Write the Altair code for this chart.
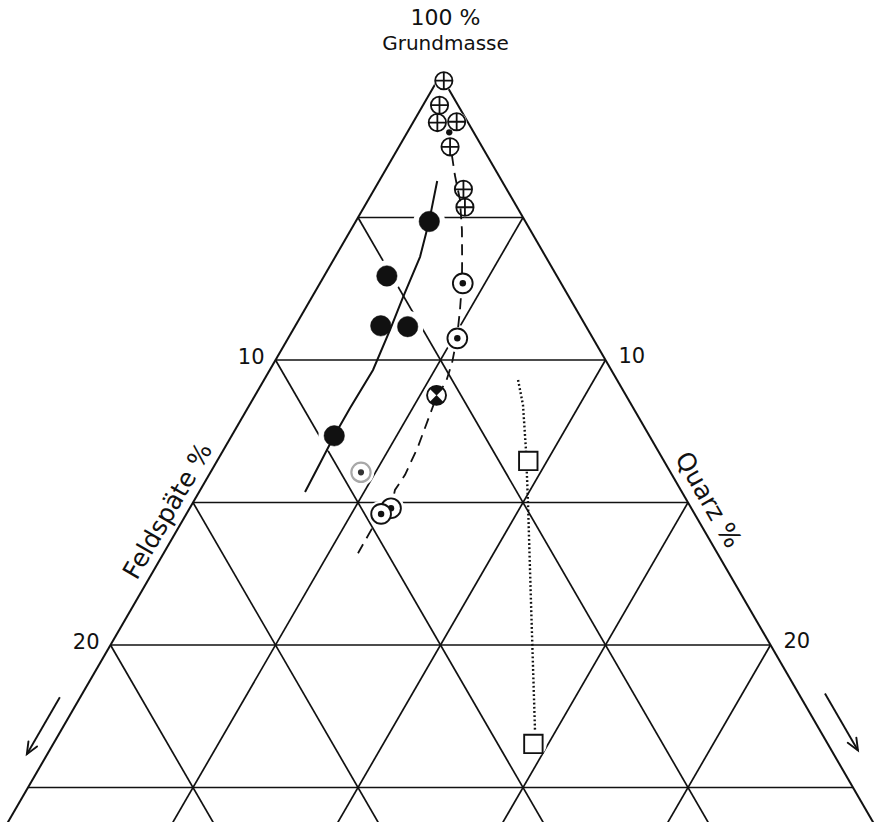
import altair as alt
import pandas as pd

# Ternary diagram Grundmasse / Feldspäte / Quarz (upper corner only).
# Every point is stored as Feldspäte % (F) and Quarz % (Q); Grundmasse = 100 - F - Q.

# crossed circles
plus_F = [0.00, 0.56, 0.93, 0.33, 0.97, 1.31, 1.58]
plus_Q = [0.20, 0.50, 0.74, 1.31, 1.55, 2.70, 3.06]

# filled circles
black_F = [2.91, 5.15, 6.21, 5.41, 9.55]
black_Q = [2.23, 1.90, 2.59, 3.42, 3.11]

# circles with centre dot (back one first)
ring_F = [2.98, 4.11, 9.10, 9.50]
ring_Q = [4.33, 5.13, 6.10, 5.90]

# faint circle with centre dot
faint_F = [9.38]
faint_Q = [4.56]

# lone small dot among the crossed circles
small_F = [0.74]
small_Q = [1.27]

# half-filled circle
half_F = [5.74]
half_Q = [5.50]

# squares
square_F = [4.11, 8.92]
square_Q = [9.43, 14.55]

# trend curves
solid_F = [1.96, 2.93, 3.81, 5.03, 6.00, 7.22, 8.58, 9.55, 10.46, 11.42]
solid_Q = [1.76, 2.23, 2.57, 2.76, 2.94, 3.13, 3.10, 3.11, 3.16, 3.21]

dashed_F = [1.06, 1.32, 1.60, 2.07, 2.59, 3.00, 3.53, 4.11, 4.70, 5.22, 5.74,
            6.43, 7.21, 8.09, 8.66, 9.10, 9.98, 10.89]
dashed_Q = [1.75, 2.19, 2.78, 3.37, 3.90, 4.30, 4.71, 5.11, 5.40, 5.55, 5.52,
            5.67, 5.84, 5.94, 5.90, 6.10, 5.88, 5.89]

dotted_F = [3.00, 3.29, 3.99, 4.84, 6.47, 8.13, 8.66]
dotted_Q = [7.70, 8.29, 9.17, 10.14, 11.95, 13.80, 14.39]

grid_steps = [5, 10, 15, 20, 25]
tick_values = [10, 20]
edge = 26.4  # lower cut of the diagram (sum F + Q)

# ---------------------------------------------------------------------------
INK = "#111111"

X = alt.X("u:Q", axis=None,
          scale=alt.Scale(domain=[-26.697, 26.636], nice=False, zero=False))
Y = alt.Y("v:Q", axis=None,
          scale=alt.Scale(domain=[-2.632, 26.21], nice=False, zero=False, reverse=True))


def pts(F, Q, **extra):
    d = pd.DataFrame({"F": F, "Q": Q})
    for k, v in extra.items():
        d[k] = v
    d["i"] = range(len(d))
    return d


def cart(chart):
    return chart.transform_calculate(
        u="datum.Q - datum.F", v="datum.F + datum.Q"
    )


def segs(rows):
    return pd.DataFrame(rows, columns=["F1", "Q1", "F2", "Q2"])


def seg_chart(d, **mark):
    return alt.Chart(d).mark_rule(clip=True, **mark).transform_calculate(
        u="datum.Q1 - datum.F1", v="datum.F1 + datum.Q1",
        u2="datum.Q2 - datum.F2", v2="datum.F2 + datum.Q2",
    ).encode(x=X, y=Y, x2="u2:Q", y2="v2:Q")


# grid
grid_rows = []
for k in grid_steps:
    grid_rows.append([k, 0, 0, k])                 # constant Grundmasse
for k in grid_steps[:-1]:
    grid_rows.append([k, 0, k, edge - k])          # constant Feldspäte
    grid_rows.append([0, k, edge - k, k])          # constant Quarz
grid = seg_chart(segs(grid_rows), color=INK, strokeWidth=1.7)

sides = seg_chart(segs([[0, 0, edge, 0], [0, 0, 0, edge]]),
                  color=INK, strokeWidth=2.0)

# white gaps in the grid around the symbols
halo_rows = []
for F, Q in zip(plus_F, plus_Q):
    halo_rows.append((F, Q, 400))
for F, Q in zip(black_F, black_Q):
    halo_rows.append((F, Q, 1000))
for F, Q in zip(ring_F + faint_F + half_F, ring_Q + faint_Q + half_Q):
    halo_rows.append((F, Q, 700))
for F, Q in zip(square_F, square_Q):
    halo_rows.append((F, Q, 700))
halo_df = pd.DataFrame(halo_rows, columns=["F", "Q", "s"])
halos = cart(alt.Chart(halo_df).mark_point(
    shape="circle", filled=True, fill="white", stroke=None, opacity=1
)).encode(x=X, y=Y, size=alt.Size("s:Q", scale=None, legend=None))


def curve(F, Q, **mark):
    return cart(alt.Chart(pts(F, Q)).mark_line(color=INK, **mark)).encode(
        x=X, y=Y, order="i:Q")


solid = curve(solid_F, solid_Q, strokeWidth=2.0)
dashed = curve(dashed_F, dashed_Q, strokeWidth=1.8, strokeDash=[11, 7])
dotted = curve(dotted_F, dotted_Q, strokeWidth=2.4, strokeDash=[1.8, 2.4])

CIRCLE_PATH = "M1,0 A1,1 0 1,1 -1,0 A1,1 0 1,1 1,0 Z"
PLUS_PATH = CIRCLE_PATH + " M-1,0 L1,0 M0,-1 L0,1"
BOWTIE_PATH = ("M0,0 L-0.707,-0.707 A1,1 0 0,1 0.707,-0.707 Z "
               "M0,0 L0.707,0.707 A1,1 0 0,1 -0.707,0.707 Z")
HEAD_PATH = "M-0.42,-1 L0,0 L0.42,-1"


def symbol(F, Q, **mark):
    base = dict(opacity=1)
    base.update(mark)
    return cart(alt.Chart(pts(F, Q)).mark_point(**base)).encode(x=X, y=Y)


plus = symbol(plus_F, plus_Q, shape=PLUS_PATH, size=300, filled=False,
              stroke=INK, strokeWidth=1.8)
blacks = symbol(black_F, black_Q, shape="circle", size=420, filled=True,
                fill=INK, stroke=INK, strokeWidth=0.5)
small = symbol(small_F, small_Q, shape="circle", size=40, filled=True, fill=INK)

ring_layers = []
for F, Q in zip(ring_F, ring_Q):
    ring_layers.append(symbol([F], [Q], shape="circle", size=390, filled=True,
                              fill="white", stroke=INK, strokeWidth=1.9))
    ring_layers.append(symbol([F], [Q], shape="circle", size=42, filled=True,
                              fill=INK))
faint_ring = symbol(faint_F, faint_Q, shape="circle", size=370, filled=True,
                    fill="white", stroke="#a8a8a8", strokeWidth=2.2)
faint_dot = symbol(faint_F, faint_Q, shape="circle", size=38, filled=True,
                   fill="#333333")

half_ring = symbol(half_F, half_Q, shape="circle", size=360, filled=True,
                   fill="white", stroke=INK, strokeWidth=1.9)
half_fill = symbol(half_F, half_Q, shape=BOWTIE_PATH, size=350, filled=True,
                   fill=INK, stroke=INK, strokeWidth=0.5)

squares = symbol(square_F, square_Q, shape="square", size=340, filled=True,
                 fill="white", stroke=INK, strokeWidth=1.9)

# direction arrows outside the two sides
arrow_F1 = [22.45, -0.80]
arrow_Q1 = [-0.62, 22.50]
arrow_F2 = [24.45, -0.80]
arrow_Q2 = [-0.62, 24.50]
arrow_angle = [30, 330]

shafts = seg_chart(pd.DataFrame({"F1": arrow_F1, "Q1": arrow_Q1,
                                 "F2": arrow_F2, "Q2": arrow_Q2}),
                   color=INK, strokeWidth=1.9)
heads = cart(alt.Chart(pd.DataFrame({"F": arrow_F2, "Q": arrow_Q2,
                                     "a": arrow_angle})).mark_point(
    shape=HEAD_PATH, size=560, filled=False, stroke=INK, strokeWidth=1.9,
    opacity=1, strokeCap="round"
)).encode(x=X, y=Y, angle=alt.Angle("a:Q", scale=None))

# texts
FONT = "DejaVu Sans"
title_top = cart(alt.Chart(pd.DataFrame({"F": [0], "Q": [0], "t": ["100 %"]}))
                 .mark_text(font=FONT, fontSize=22, color=INK, dx=5, dy=-57,
                            baseline="middle", align="center")
                 ).encode(x=X, y=Y, text="t:N")
title_name = cart(alt.Chart(pd.DataFrame({"F": [0], "Q": [0], "t": ["Grundmasse"]}))
                  .mark_text(font=FONT, fontSize=20, color=INK, dx=5, dy=-31,
                             baseline="middle", align="center")
                  ).encode(x=X, y=Y, text="t:N")

left_ticks = cart(alt.Chart(pd.DataFrame({"F": tick_values, "Q": [0, 0],
                                          "t": [str(t) for t in tick_values]}))
                  .mark_text(font=FONT, fontSize=21, color=INK, dx=-11, dy=-2,
                             baseline="middle", align="right")
                  ).encode(x=X, y=Y, text="t:N")
right_ticks = cart(alt.Chart(pd.DataFrame({"F": [0, 0], "Q": tick_values,
                                           "t": [str(t) for t in tick_values]}))
                   .mark_text(font=FONT, fontSize=21, color=INK, dx=13, dy=-3,
                              baseline="middle", align="left")
                   ).encode(x=X, y=Y, text="t:N")

feld_label = cart(alt.Chart(pd.DataFrame({"F": [15.91], "Q": [-0.61],
                                          "t": ["Feldspäte %"]}))
                  .mark_text(font=FONT, fontSize=25, color=INK, angle=300,
                             baseline="middle", align="center")
                  ).encode(x=X, y=Y, text="t:N")
quarz_label = cart(alt.Chart(pd.DataFrame({"F": [-0.65], "Q": [15.56],
                                           "t": ["Quarz %"]}))
                   .mark_text(font=FONT, fontSize=25, color=INK, angle=60,
                              baseline="middle", align="center")
                   ).encode(x=X, y=Y, text="t:N")

chart = alt.layer(
    grid, sides, halos, solid, dashed, dotted,
    plus, small, blacks, *ring_layers, faint_ring, faint_dot,
    half_ring, half_fill, squares,
    shafts, heads,
    title_top, title_name, left_ticks, right_ticks, feld_label, quarz_label,
).properties(
    width=880, height=822, padding=0, autosize="none", background="white"
).configure_view(stroke=None)

chart.save("out.html", embed_options={"renderer": "svg", "actions": False})
